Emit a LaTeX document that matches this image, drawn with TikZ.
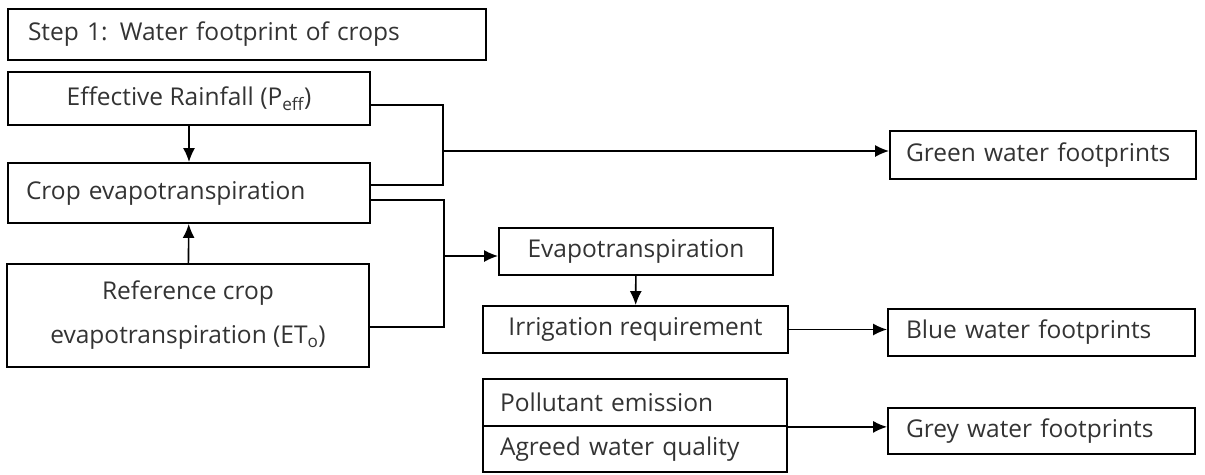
\documentclass[tikz,border=0pt]{standalone}
\usepackage{fontspec}
\setmainfont{Open Sans}
\usetikzlibrary{arrows.meta, positioning}

\begin{document}
\begin{tikzpicture}[x=1pt, y=-1pt,
    box/.style={draw, line width=1.8pt, inner sep=0pt, text=black!80,
                font=\fontsize{24.5}{28}\selectfont},
    leftbox/.style={box, align=left, inner xsep=#1},
    link/.style={line width=1.6pt},
    arr/.style={link, -{Latex[length=14pt,width=12pt]}}]
  \useasboundingbox (0,0) rectangle (1205,474);

  % left column
  \node[leftbox=20, text width=438, minimum height=51] (step) at (247,34.5) {Step 1: Water footprint of crops};
  \node[box, minimum width=362, minimum height=53] (rain) at (189,98.5) {Effective Rainfall (P\textsubscript{eff})};
  \node[leftbox=18, text width=326, minimum height=60] (crop) at (189,193) {Crop evapotranspiration};
  \node[box, minimum width=362, minimum height=103, align=center,
        font=\fontsize{24.5}{44}\selectfont] (ref) at (188,315.5) {Reference crop\\evapotranspiration (ET\textsubscript{o})};

  % middle column
  \node[box, minimum width=274, minimum height=47] (evap) at (636,251.5) {Evapotranspiration};
  \node[box, minimum width=305, minimum height=47] (irr) at (635.5,329.5) {Irrigation requirement};
  \node[leftbox=17, text width=270, minimum height=47] (poll) at (635,402.5) {Pollutant emission};
  \node[leftbox=17, text width=270, minimum height=46] (agreed) at (635,449) {Agreed water quality};

  % right column
  \node[leftbox=16, text width=274, minimum height=48] (green) at (1043,155) {Green water footprints};
  \node[leftbox=18, text width=271, minimum height=47] (blue) at (1041.5,332.5) {Blue water footprints};
  \node[leftbox=18, text width=271, minimum height=46] (grey) at (1041.5,431) {Grey water footprints};

  \coordinate (gj) at (443,151);
  \coordinate (bj) at (444,256);

  \draw[arr] (rain) -- (crop);
  \draw[arr] (ref) -- (crop);
  \draw[link] ([yshift=-6.5pt]rain.east) -| (gj) |- ([yshift=8pt]crop.east);
  \draw[arr] (gj) -- (gj -| green.west);
  \draw[link] ([yshift=-7pt]crop.east) -| (bj) |- ([yshift=-11.5pt]ref.east);
  \draw[arr] (bj) -- (bj -| evap.west);
  \draw[arr] (evap) -- (irr);
  \draw[arr] (irr.east) -- (irr.east -| blue.west);
  \draw[arr] (poll.south east) -- (poll.south east -| grey.west);
\end{tikzpicture}
\end{document}
